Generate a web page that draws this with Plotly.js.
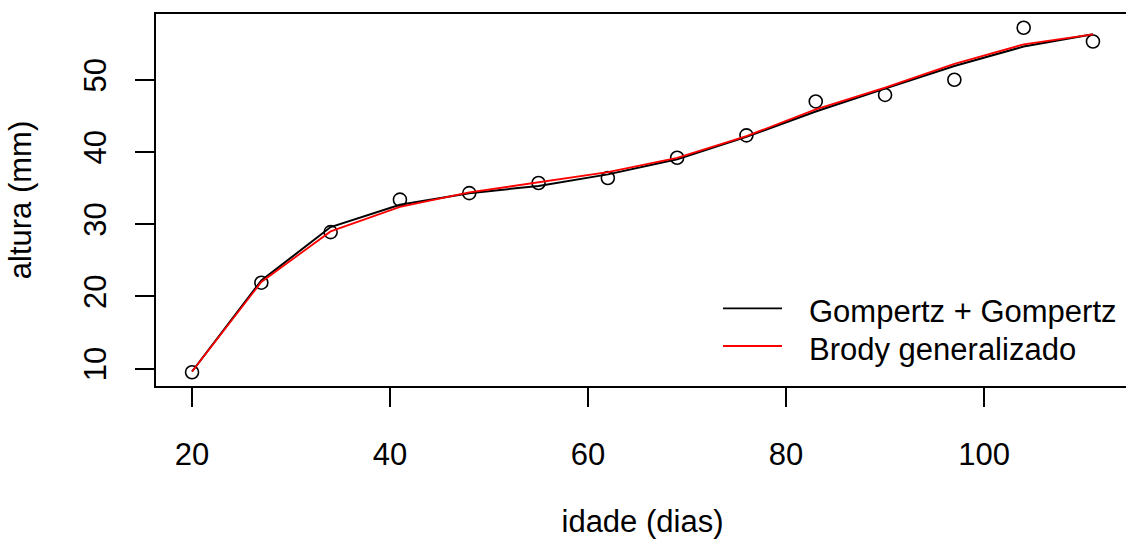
<!DOCTYPE html>
<html>
<head>
<meta charset="utf-8">
<script src="https://cdn.plot.ly/plotly-3.0.1.min.js"></script>
<style>
  html, body { margin: 0; padding: 0; background: #fff; overflow: hidden; }
  #chart { width: 1140px; height: 539px; }
</style>
</head>
<body>
<div id="chart"></div>
<script>
// Age of the plants (days)
const idade = [20, 27, 34, 41, 48, 55, 62, 69, 76, 83, 90, 97, 104, 111];
// Observed height (mm)
const alturaObs = [9.5, 21.9, 28.9, 33.4, 34.3, 35.7, 36.4, 39.2, 42.3, 47.0, 47.9, 50.0, 57.2, 55.3];
// Fitted values, double Gompertz model
const ajusteGompertz = [9.6, 22.2, 29.6, 32.7, 34.3, 35.3, 36.9, 39.0, 42.1, 45.6, 48.8, 51.9, 54.6, 56.3];
// Fitted values, generalized Brody model
const ajusteBrody = [9.6, 22.0, 29.0, 32.4, 34.4, 35.8, 37.2, 39.2, 42.2, 45.9, 48.9, 52.2, 54.9, 56.3];

const nomesModelos = ['Gompertz + Gompertz', 'Brody generalizado'];
const coresModelos = ['#000000', '#ff0000'];
const xTicks = [20, 40, 60, 80, 100];
const yTicks = [10, 20, 30, 40, 50];

// Axis limits extended by 4% on each side of the observed data
function faixa(v) {
  const lo = Math.min(...v), hi = Math.max(...v), d = (hi - lo) * 0.04;
  return [lo - d, hi + d];
}

const FONT = '"Liberation Sans", Arial, "DejaVu Sans", sans-serif';
const FS = 31;

const traces = [
  {
    x: idade, y: alturaObs, type: 'scatter', mode: 'markers',
    marker: { symbol: 'circle-open', size: 13, color: '#000', line: { width: 1.6, color: '#000' } },
    showlegend: false, hoverinfo: 'x+y'
  },
  {
    x: idade, y: ajusteGompertz, type: 'scatter', mode: 'lines', name: nomesModelos[0],
    line: { color: coresModelos[0], width: 2 }, showlegend: false
  },
  {
    x: idade, y: ajusteBrody, type: 'scatter', mode: 'lines', name: nomesModelos[1],
    line: { color: coresModelos[1], width: 1.8 }, showlegend: false
  }
];

// Plot box in pixels
const W = 1140, H = 539;
const L = 156, R = 1129, T = 14, B = 386;
const px = v => (v - L) / (R - L);
const py = v => (B - v) / (B - T);

// Legend (lines + labels), placed bottom-right inside the box
const legendShapes = nomesModelos.map((n, i) => ({
  type: 'line', xref: 'paper', yref: 'paper',
  x0: px(723), x1: px(782), y0: py(308.3 + 37.7 * i), y1: py(308.3 + 37.7 * i),
  line: { color: coresModelos[i], width: 1.8 }
}));
const legendText = nomesModelos.map((n, i) => ({
  text: n, xref: 'paper', yref: 'paper', x: px(807), y: py(311.5 + 37.7 * i),
  xanchor: 'left', yanchor: 'middle', showarrow: false,
  font: { family: FONT, size: FS, color: '#000' }
}));

const layout = {
  width: W, height: H,
  margin: { l: L, r: W - R, t: T, b: H - B, pad: 0 },
  paper_bgcolor: '#fff', plot_bgcolor: '#fff',
  font: { family: FONT, size: FS, color: '#000' },
  showlegend: false,
  xaxis: {
    range: faixa(idade), tickvals: xTicks, ticktext: xTicks.map(String),
    showgrid: false, zeroline: false,
    showline: true, mirror: true, linecolor: '#000', linewidth: 2,
    ticks: 'outside', ticklen: 19, tickwidth: 2, tickcolor: '#000',
    ticklabelstandoff: 21,
    tickfont: { family: FONT, size: FS, color: '#000' },
    title: { text: 'idade (dias)', font: { family: FONT, size: FS, color: '#000' }, standoff: 50 },
    automargin: false
  },
  yaxis: {
    range: faixa(alturaObs), tickvals: yTicks, ticktext: yTicks.map(String),
    tickangle: -90,
    showgrid: false, zeroline: false,
    showline: true, mirror: true, linecolor: '#000', linewidth: 2,
    ticks: 'outside', ticklen: 19, tickwidth: 2, tickcolor: '#000',
    ticklabelstandoff: 17,
    tickfont: { family: FONT, size: FS, color: '#000' },
    title: { text: 'altura (mm)', font: { family: FONT, size: FS, color: '#000' }, standoff: 37 },
    automargin: false
  },
  shapes: legendShapes,
  annotations: legendText
};

Plotly.newPlot('chart', traces, layout, { displayModeBar: false, staticPlot: true });
</script>
</body>
</html>
